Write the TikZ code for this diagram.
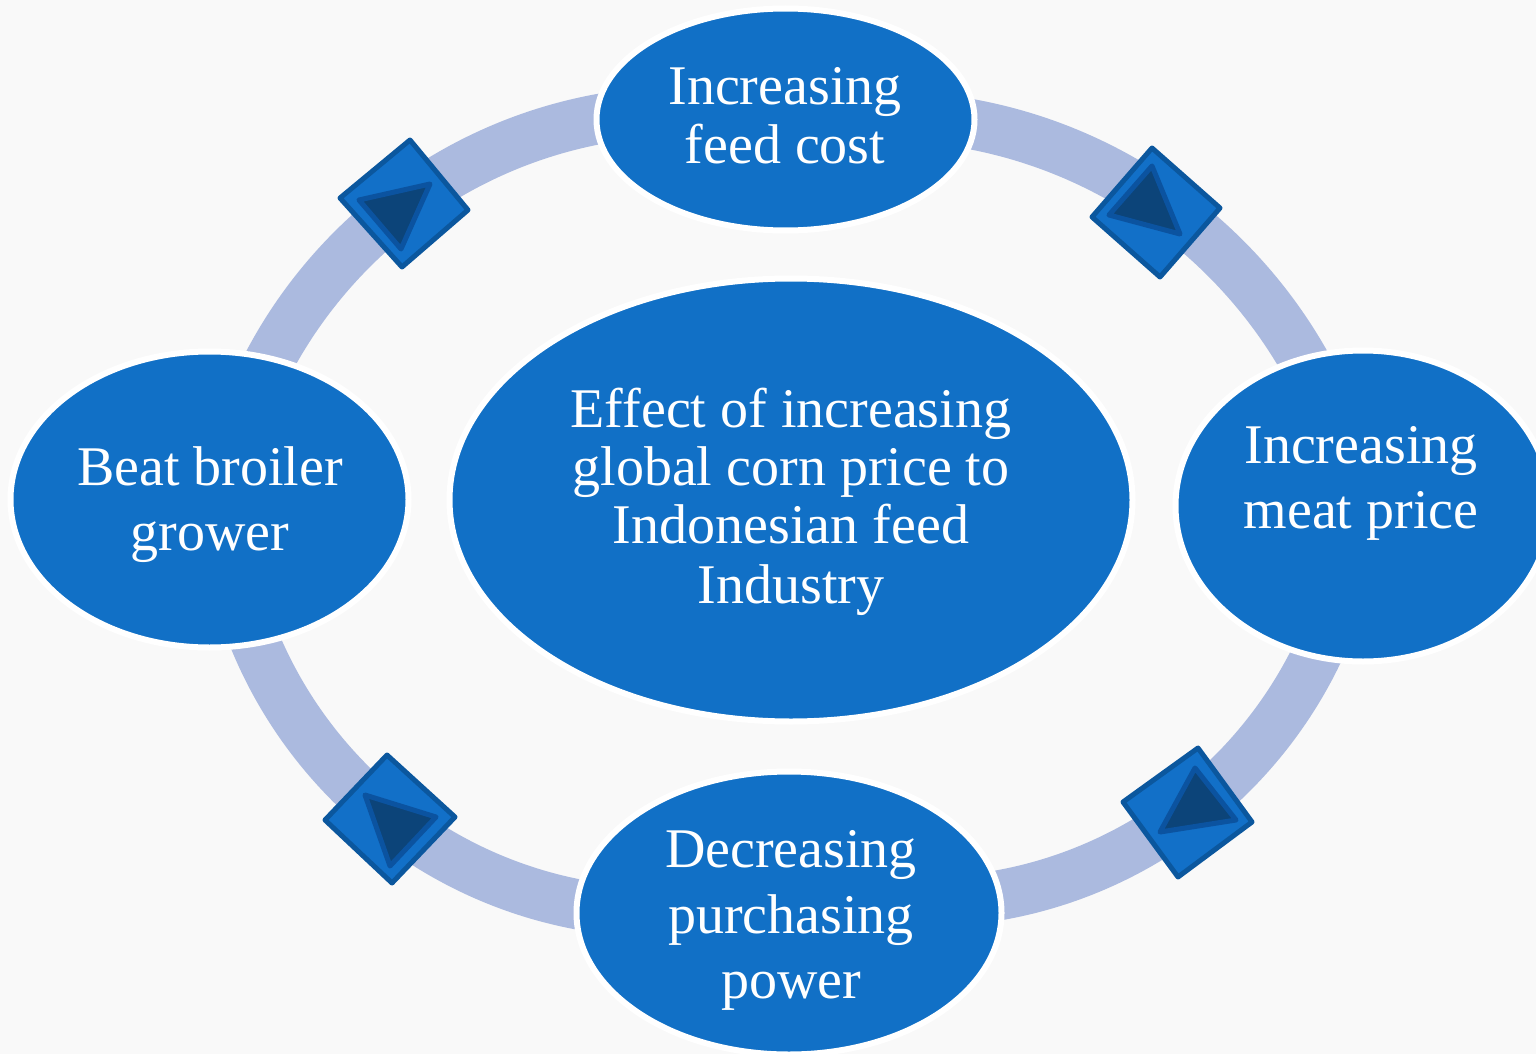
\documentclass[tikz,border=0pt]{standalone}
\usepackage{fontspec}
\setmainfont{Liberation Serif}
\usetikzlibrary{shapes.geometric}
\definecolor{bubblec}{HTML}{1170C6}
\definecolor{ringc}{HTML}{ABBADF}
\definecolor{dfill}{HTML}{1270C8}
\definecolor{dedge}{HTML}{0B579E}
\definecolor{tfill}{HTML}{0C4479}
\definecolor{tedge}{HTML}{0B53A0}
\definecolor{bgc}{HTML}{F9F9F9}
\begin{document}
\begin{tikzpicture}[x=1pt,y=-1pt,
  bubble/.style={ellipse, fill=bubblec, draw=white, line width=6pt, inner sep=0pt},
  lbl/.style={text=white, font=\fontsize{56}{58}\selectfont, anchor=base, inner sep=0pt},
  dmd/.style={fill=dfill, draw=dedge, line width=5pt, line join=round},
  tri/.style={fill=tfill, draw=tedge, line width=5pt, line join=round},
  ringline/.style={draw=ringc, line width=50pt}]
\fill[bgc] (0,0) rectangle (1536,1054);
\useasboundingbox (0,0) rectangle (1536,1054);
% ring: four circular arcs, ends hidden under the bubbles
\begin{scope}
  \clip (0,0) rectangle (787,511);
  \draw[ringline] (686,583) circle [radius=472pt];
\end{scope}
\begin{scope}
  \clip (787,0) rectangle (1536,511);
  \draw[ringline] (882,602) circle [radius=486pt];
\end{scope}
\begin{scope}
  \clip (0,511) rectangle (787,1054);
  \draw[ringline] (661.4,472.3) circle [radius=440pt];
\end{scope}
\begin{scope}
  \clip (787,511) rectangle (1536,1054);
  \draw[ringline] (921.5,462.8) circle [radius=439.3pt];
\end{scope}
% diamonds with triangles
\draw[dmd] (410,140) -- (468,210) -- (402,267) -- (340,198) -- cycle;
\draw[tri] (430,184) -- (359,200) -- (401,249) -- cycle;
\draw[dmd] (1152,148) -- (1220,208) -- (1160,277) -- (1092,217) -- cycle;
\draw[tri] (1152,166) -- (1109,215) -- (1180,234) -- cycle;
\draw[dmd] (1198,748) -- (1252,822) -- (1178,877) -- (1123,802) -- cycle;
\draw[tri] (1195,768) -- (1160,832) -- (1236,820) -- cycle;
\draw[dmd] (387,755) -- (455,817) -- (392,883) -- (325,820) -- cycle;
\draw[tri] (365,795) -- (436,817) -- (390,866) -- cycle;
% bubbles
\node[bubble, minimum width=378pt, minimum height=222pt] (top) at (785.5,119.5) {};
\node[bubble, minimum width=375pt, minimum height=311pt] (right) at (1363,506) {};
\node[bubble, minimum width=398pt, minimum height=296pt] (left) at (209.5,499.5) {};
\node[bubble, minimum width=425pt, minimum height=283pt] (bottom) at (789,913) {};
\node[bubble, minimum width=683pt, minimum height=443pt] (center) at (791,500) {};
% labels
\node[lbl] (t1) at (785,105) {Increasing};
\node[lbl] (t2) at (785,163) {feed cost};
\node[lbl] (r1) at (1361,463) {Increasing};
\node[lbl] (r2) at (1361,528) {meat price};
\node[lbl] (l1) at (210,485) {Beat broiler};
\node[lbl] (l2) at (210,550) {grower};
\node[lbl] (b1) at (791,867) {Decreasing};
\node[lbl] (b2) at (791,933) {purchasing};
\node[lbl] (b3) at (791,998) {power};
\node[lbl] (c1) at (791,427) {Effect of increasing};
\node[lbl] (c2) at (791,485) {global corn price to};
\node[lbl] (c3) at (791,543) {Indonesian feed};
\node[lbl] (c4) at (791,603) {Industry};
\end{tikzpicture}
\end{document}
